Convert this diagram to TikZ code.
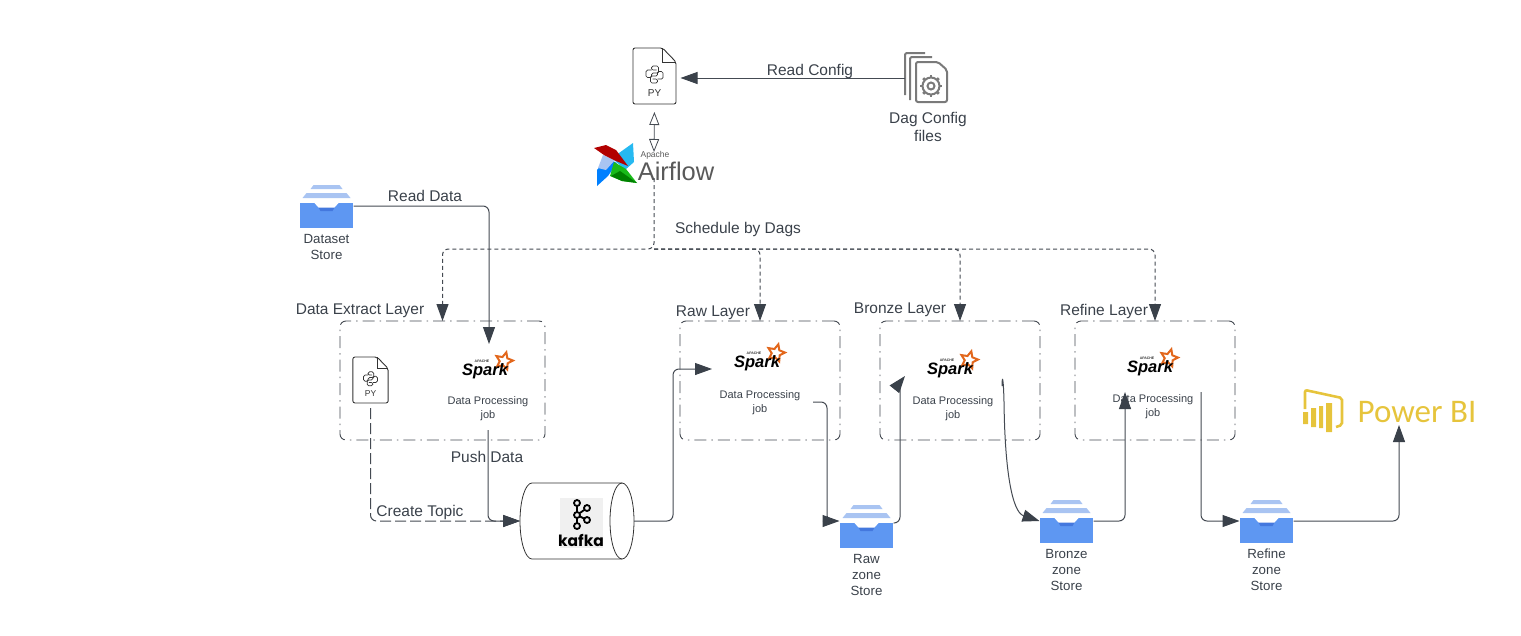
\documentclass[tikz,border=0pt]{standalone}
\usepackage{fontspec}
\setmainfont{Liberation Sans}
\newfontfamily\brandfont{Carlito}
\newfontfamily\kafkafont{Poppins}
\usetikzlibrary{arrows.meta, positioning, shapes.geometric}
\definecolor{ink}{HTML}{3A414A}
\definecolor{wire}{HTML}{444A52}
\definecolor{trayblue}{HTML}{5E97F2}
\definecolor{traylight}{HTML}{A9C4F2}
\definecolor{traydark}{HTML}{4478DE}
\definecolor{sparkorange}{HTML}{E2671C}
\definecolor{pbiyellow}{HTML}{E6C43C}
\definecolor{cfggray}{HTML}{7A7A7A}
\tikzset{
  lbl/.style={font=\fontsize{15.5}{18}\selectfont, text=ink, inner sep=0pt, align=center},
  storetxt/.style={font=\fontsize{13.3}{16}\selectfont, text=ink, inner sep=0pt, align=center},
  jobtxt/.style={font=\fontsize{11}{14}\selectfont, text=ink, inner sep=0pt, align=center},
  flow/.style={draw=wire, line width=1pt, rounded corners=6pt, -{Triangle[length=17pt,width=12pt,color=ink]}},
  busline/.style={flow, dash pattern=on 4pt off 3pt},
  longdash/.style={flow, dash pattern=on 11pt off 4pt},
  layer/.style={draw=wire, rounded corners=6pt, line width=0.9pt, dash pattern=on 12pt off 5pt on 1.5pt off 5pt,
    minimum height=119pt, inner sep=0pt, outer sep=0pt},
  pics/store/.style={code={
    \fill[traylight] (-13,-18) -- (13,-18) -- (16,-14) -- (-16,-14) -- cycle;
    \fill[traylight] (-20,-10) -- (20,-10) -- (24,-5) -- (-24,-5) -- cycle;
    \node[fill=trayblue, minimum width=53pt, minimum height=25pt, inner sep=0pt, outer sep=0pt] (-tray) at (0,12.5) {};
    \fill[traydark] (-9,3) -- (9,3) -- (6,8) -- (-6,8) -- cycle;
    \fill[white] (-12,0) -- (12,0) -- (8,4.5) -- (-8,4.5) -- cycle;
    \coordinate (-in) at (-27,3);
    \coordinate (-out) at (27,3);
    \node[storetxt, anchor=north] at (0,31) {#1};
  }},
  pics/pyfile/.style={code={
    \node[minimum width=43pt, minimum height=56pt, inner sep=0pt, outer sep=0pt] (-body) at (0,0) {};
    \draw[line width=0.9pt, draw=black!80, rounded corners=2pt] (-21.5,-28) -- (8,-28) -- (21.5,-14) -- (21.5,28) -- (-21.5,28) -- cycle;
    \draw[line width=0.8pt, draw=black!80] (8,-28) -- (8,-14) -- (21.5,-14);
    \begin{scope}[yshift=1.5pt, line width=0.7pt, draw=black!80, rounded corners=1.5pt]
      \draw (2,-4.5) -- (-3,-4.5) -- (-3,-8.5) -- (4,-8.5) -- (4,-1.5) -- (-3,-1.5) -- (-3,3) -- (-8.5,3) -- (-8.5,-4.5) -- (-3,-4.5);
      \draw (-2,4.5) -- (3,4.5) -- (3,8.5) -- (-4,8.5) -- (-4,1.5) -- (3,1.5) -- (3,-3) -- (8.5,-3) -- (8.5,4.5) -- (3,4.5);
    \end{scope}
    \node[inner sep=0pt, text=black!80] at (0,17) {PY};
  }},
  pics/sparklogo/.style={code={
    \node[star, star points=5, star point ratio=2.1, draw=sparkorange, line width=2pt, minimum size=18pt, inner sep=0pt, rotate=-15] at (19,-9) {};
    \node[inner sep=0pt, font=\fontsize{16.5}{18}\selectfont\bfseries\itshape, text=black] at (0,1) {Spark};
    \node[inner sep=0pt, font=\fontsize{3.5}{4}\selectfont\bfseries, text=black!80] at (-3,-8.5) {APACHE};
  }},
}
\begin{document}
\begin{tikzpicture}[x=1pt,y=-1pt]
  \useasboundingbox (0,0) rectangle (1521,635);

  % layers
  \node[layer, minimum width=205pt] (extract) at (442.5,380.5) {};
  \node[layer, minimum width=160pt] (rawlayer) at (760,380.5) {};
  \node[layer, minimum width=160pt] (bronzelayer) at (960,380.5) {};
  \node[layer, minimum width=160pt] (refinelayer) at (1155,380.5) {};
  \node[lbl] at (360,311) {Data Extract Layer};
  \node[lbl] at (713,313) {Raw Layer};
  \node[lbl] at (900,310) {Bronze Layer};
  \node[lbl] at (1104,311) {Refine Layer};

  % top row
  \pic[font=\fontsize{10}{12}\selectfont] (dagpy) at (654.5,76) {pyfile};
  \begin{scope}[draw=cfggray, line width=2pt, rounded corners=2pt]
    \draw (905,95) -- (905,53) -- (925,53);
    \draw (910,100) -- (910,57) -- (932,57);
    \draw[fill=white] (916,62) -- (938,62) -- (947,70) -- (947,102) -- (916,102) -- cycle;
    \draw (931,86) circle (3.5);
    \draw (931,86) circle (8.5);
    \foreach \a in {0,45,...,315}
      \draw[line width=2.8pt] (931,86) ++(\a:8.5) -- ++(\a:2.5);
  \end{scope}
  \node[minimum width=42pt, minimum height=49pt, inner sep=0pt, outer sep=0pt] (dagfiles) at (926,78) {};
  \node[lbl, anchor=north] at (928,112) {Dag Config\\files};

  % airflow windmill
  \node[minimum width=120pt, minimum height=26pt, inner sep=0pt, outer sep=0pt] (airflow) at (654,165) {};
  \fill[cyan!85!white] (633,143) -- (634,162) -- (625,170) -- (612,158) -- cycle;
  \fill[blue!50!cyan] (597,186) -- (597,170) -- (607,158) -- (617,163) -- (608,176) -- cycle;
  \fill[traylight] (603,155) -- (615,160) -- (606,170) -- (598,168) -- cycle;
  \fill[green!70!black!90] (637,183) -- (622,181) -- (610,176) -- (614,162) -- (626,169) -- cycle;
  \fill[green!50!black] (637,183) -- (622,181) -- (611,176) -- (620,171) -- cycle;
  \fill[red!70!black] (594,148) -- (606,145) -- (616,150) -- (628,166) -- (616,161) -- (604,155) -- cycle;
  \node[inner sep=0pt, font=\fontsize{8.5}{10}\selectfont, text=black!65] at (655,155) {Apache};
  \node[inner sep=0pt, font=\fontsize{25.5}{28}\selectfont, text=black!65] at (676,171) {Airflow};

  % stores
  \pic (dsstore) at (326.5,203) {store={Dataset\\Store}};
  \pic (rawstore) at (866.5,523) {store={Raw\\zone\\Store}};
  \pic (bronzestore) at (1066.5,518) {store={Bronze\\zone\\Store}};
  \pic (refinestore) at (1266.5,518) {store={Refine\\zone\\Store}};

  % extract layer content
  \pic[scale=0.82, font=\fontsize{8.5}{10}\selectfont] (genpy) at (370.5,380) {pyfile};
  \pic at (485,370) {sparklogo};
  \node[jobtxt] (extractjob) at (488,409) {Data Processing\\job};
  \pic at (757,362) {sparklogo};
  \node[jobtxt] (rawjob) at (760,403) {Data Processing\\job};
  \pic at (950,369) {sparklogo};
  \node[jobtxt] (bronzejob) at (953,409) {Data Processing\\job};
  \pic at (1150,367) {sparklogo};
  \node[jobtxt] (refinejob) at (1153,407) {Data Processing\\job};

  % kafka
  \node[minimum width=114pt, minimum height=76pt, inner sep=0pt, outer sep=0pt] (kafka) at (577,521) {};
  \draw[black!80, line width=0.8pt] (622,483) -- (532,483) arc[start angle=90, end angle=270, x radius=12pt, y radius=38pt] -- (622,559);
  \draw[black!80, line width=0.8pt] (622,521) ellipse [x radius=12pt, y radius=38pt];
  \fill[black!6] (560,498) rectangle (603,548);
  \begin{scope}[draw=black, line width=1.8pt]
    \draw (577,503) -- (577,526) (577,515) -- (587,508) (577,515) -- (587,520);
    \foreach \p in {(577,503),(577,515),(577,526),(587,508),(587,520)}
      \draw[fill=black!6] \p circle (3);
  \end{scope}
  \node[inner sep=0pt, font=\kafkafont\fontsize{15.5}{18}\selectfont\bfseries, text=black] at (581,540) {kafka};

  % power bi
  \draw[pbiyellow, line width=2.6pt, rounded corners=2pt] (1305,409) -- (1305,390) -- (1342,398) -- (1342,425) -- (1336,427);
  \fill[pbiyellow] (1303,412) rectangle (1308,424) (1311,408) rectangle (1316,427) (1319,406) rectangle (1323,428) (1326,403) rectangle (1332,432);
  \node[inner sep=0pt, font=\brandfont\fontsize{33}{36}\selectfont, text=pbiyellow] (powerbi) at (1417,412) {Power BI};

  % free ends
  \coordinate (bus) at (654,249);
  \coordinate (extractin) at (489,344);
  \coordinate (extractout) at (488,430);
  \coordinate (rawin) at (712,369);
  \coordinate (rawout) at (813,402);
  \coordinate (bronzein) at (905,376);
  \coordinate (bronzeout) at (1002,386);
  \coordinate (refinein) at (1125,392);
  \coordinate (refineout) at (1201,392);
  \coordinate (powerin) at (1399,425);

  % connectors
  \draw[flow, rounded corners=0pt] (dagfiles.west) -- ([xshift=4.5pt]dagpy-body.east |- dagfiles.west);
  \node[lbl] at (810,71) {Read Config};
  \draw[wire, line width=0.8pt, {Triangle[open,length=13pt,width=10pt]}-{Triangle[open,length=13pt,width=10pt]}, shorten <=8pt]
    (dagpy-body.south) -- (airflow.north);
  \draw[busline] (airflow.south) -- (bus) -| (extract.north);
  \draw[busline] (bus) -| (rawlayer.north);
  \draw[busline] (bus) -| (bronzelayer.north);
  \draw[busline] (bus) -| (refinelayer.north);
  \node[lbl] at (738,229) {Schedule by Dags};

  \draw[flow] (dsstore-out) -| (extractin);
  \node[lbl] at (425,196) {Read Data};
  \draw[longdash] (genpy-body.south) |- (kafka.west);
  \node[lbl] at (420,512) {Create Topic};
  \draw[flow] (extractout) |- (kafka.west);
  \node[lbl] at (487,457) {Push Data};
  \draw[flow] (kafka.east) -- ++(39,0) |- (rawin);
  \draw[flow] (rawout) -- ++(14,0) |- ([yshift=5pt]rawstore-in);
  \draw[flow] ([yshift=3pt]rawstore-out) -| (900,395) .. controls (900,385) and (901,381) .. (bronzein);
  \draw[flow] (bronzeout) .. controls (1002,378) and (1003,374) .. (1004,400) .. controls (1005,470) and (1012,512) .. (bronzestore-in);
  \draw[flow] (bronzestore-out) -| (refinein);
  \draw[flow] (refineout) |- (refinestore-in);
  \draw[flow] (refinestore-out) -| (powerin);
\end{tikzpicture}
\end{document}
